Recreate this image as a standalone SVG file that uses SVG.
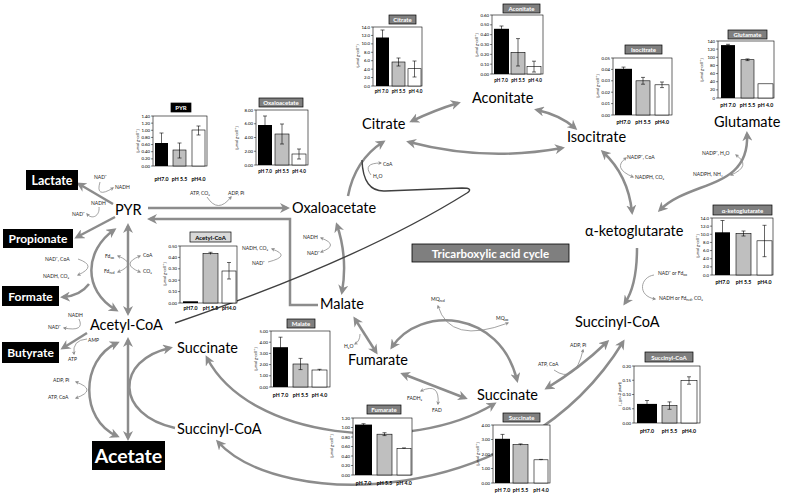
<svg xmlns="http://www.w3.org/2000/svg" width="785" height="497" viewBox="0 0 785 497">
<style>
text{font-family:Lato,"Liberation Sans",sans-serif}
.m{font-size:14.5px;fill:#000}
.bx{fill:#000}
.bt{fill:#fff;font-weight:bold;text-anchor:middle}
.t{font-size:5px;fill:#222}
.sb{font-size:3.6px}
.a{fill:none;stroke:#8c8c8c;stroke-width:2.5;marker-end:url(#ah)}
.a2{fill:none;stroke:#8c8c8c;stroke-width:2.5;marker-start:url(#ah);marker-end:url(#ah)}
.s{fill:none;stroke:#8c8c8c;stroke-width:.8;marker-end:url(#sh)}
.s2{fill:none;stroke:#8c8c8c;stroke-width:.8;marker-start:url(#sh);marker-end:url(#sh)}
.ttl{fill:#7f7f7f;stroke:#000;stroke-width:.7}
.tt{fill:#fff;font-weight:bold;font-size:6px;text-anchor:middle}
.fr{fill:#fff;stroke:#000;stroke-width:.6}
.tk{font-size:4.3px;text-anchor:end;fill:#000}
.tm{stroke:#000;stroke-width:.5;fill:none}
.b1{fill:#000}
.b2{fill:#bfbfbf;stroke:#000;stroke-width:.6}
.b3{fill:#fff;stroke:#000;stroke-width:.6}
.er{stroke:#000;stroke-width:.6;fill:none}
.xl{font-size:5.2px;font-weight:bold;text-anchor:middle;fill:#000}
.xs{font-size:4.6px}
.yl{font-size:3.8px;text-anchor:middle;fill:#000}
</style>
<defs>
<marker id="ah" viewBox="0 0 10 10" refX="7" refY="5" markerWidth="10" markerHeight="10" markerUnits="userSpaceOnUse" orient="auto-start-reverse"><path d="M0,0 L10,5 L0,10 L3,5 Z" fill="#8c8c8c"/></marker>
<marker id="sh" viewBox="0 0 10 10" refX="7" refY="5" markerWidth="4" markerHeight="4" markerUnits="userSpaceOnUse" orient="auto-start-reverse"><path d="M0,0 L10,5 L0,10 L3,5 Z" fill="#8c8c8c"/></marker>
</defs>
<rect width="785" height="497" fill="#fff"/>

<g id="connectors">
<path class="a" d="M113,204 L79,184"/>
<path class="s" d="M100,182 Q95,199 113,188"/>
<path class="a" d="M115,217 L77,237"/>
<path class="s" d="M99,207 C100,216 92,220 87,214"/>
<path class="a2" d="M128,226 L128,313"/>
<path class="s2" d="M118,256 Q138,264 118,272"/>
<path class="s2" d="M140,256 Q120,264 140,272"/>
<path class="a2" d="M114,230 C85,250 82,290 116,310"/>
<path class="a" d="M89,284 Q80,296 63,297"/>
<path class="s" d="M78,259 Q98,266 78,275"/>
<path class="a" d="M87,333 L63,348"/>
<path class="s" d="M79,319 Q85,332 64,328"/>
<path class="s" d="M87,339 Q72,340 74,354"/>
<path class="a2" d="M128,340 L128,438"/>
<path class="a2" d="M117,343 C80,360 80,420 117,436"/>
<path class="s2" d="M76,382 Q98,390 76,398"/>
<path class="a" d="M175,428 C115,415 115,360 170,348"/>
<path class="a" d="M148,208 L287,208"/>
<path class="a" d="M318,305 L290,305 L290,219 L150,219"/>
<path class="s" d="M207,197 Q218,214 231,197"/>
<path class="s" d="M268,262 Q292,256 272,249"/>
<path class="a2" d="M337,225 Q348,258 342,292"/>
<path class="s2" d="M321,252 Q340,245 321,238"/>
<path class="a" d="M348,196 Q355,160 383,142"/>
<path class="s" d="M371,175 Q362,163 381,163"/>
<path d="M175,323 Q360,260 467,193 Q474,188 462,188 L385,191 Q363,192 362,160" fill="none" stroke="#404040" stroke-width="1.4"/>
<path class="a2" d="M412,121 Q435,110 458,103"/>
<path class="a2" d="M537,110 Q560,115 575,128"/>
<path class="a2" d="M409,142 Q485,162 562,148"/>
<path class="a2" d="M603,152 Q628,175 632,212"/>
<path class="s2" d="M626,158 Q612,168 633,177"/>
<path class="a2" d="M660,210 C690,180 750,190 747,134"/>
<path class="s2" d="M736,155 Q752,166 731,175"/>
<path class="a" d="M637,248 Q637,285 625,303"/>
<path class="s" d="M654,275 C640,277 637,296 655,299"/>
<path class="a2" d="M547,388 Q580,368 607,342"/>
<path class="s" d="M554,370 Q575,385 583,350"/>
<path class="a2" d="M218,442 C280,510 520,510 623,342"/>
<path class="a2" d="M207,358 C250,440 410,455 494,404"/>
<path class="a2" d="M355,319 L376,352"/>
<path class="s" d="M360,334 Q360,341 355,344"/>
<path class="a2" d="M403,374 L465,398"/>
<path class="s2" d="M421,391 Q440,382 438,404"/>
<path class="a2" d="M392,347 C420,305 500,310 517,380"/>
<path class="s2" d="M438,306 Q450,345 508,323"/>
</g>

<g id="side-labels">
<text class="t" x="94" y="179">NAD⁺</text>
<text class="t" x="115" y="189">NADH</text>
<text class="t" x="91" y="205">NADH</text>
<text class="t" x="72" y="216">NAD⁺</text>
<text class="t" x="190" y="195">ATP, CO₂</text>
<text class="t" x="228" y="195">ADP, Pi</text>
<text class="t" x="105" y="258">Fd<tspan class="sb" dy="1">ox</tspan></text>
<text class="t" x="104" y="273">Fd<tspan class="sb" dy="1">red</tspan></text>
<text class="t" x="143" y="257">CoA</text>
<text class="t" x="143" y="273">CO₂</text>
<text class="t" x="45" y="261">NAD⁺, CoA</text>
<text class="t" x="43" y="278">NADH, CO₂</text>
<text class="t" x="242" y="250">NADH, CO₂</text>
<text class="t" x="252" y="265">NAD⁺</text>
<text class="t" x="303" y="239">NADH</text>
<text class="t" x="307" y="255">NAD⁺</text>
<text class="t" x="383" y="166">CoA</text>
<text class="t" x="373" y="178">H₂O</text>
<text class="t" x="431" y="301">MQ<tspan class="sb" dy="1">red</tspan></text>
<text class="t" x="496" y="320">MQ<tspan class="sb" dy="1">ox</tspan></text>
<text class="t" x="344" y="348">H₂O</text>
<text class="t" x="407" y="400">FADH₂</text>
<text class="t" x="432" y="412">FAD</text>
<text class="t" x="570" y="347">ADP, Pi</text>
<text class="t" x="538" y="366">ATP, CoA</text>
<text class="t" x="627" y="159">NADP⁺, CoA</text>
<text class="t" x="635" y="179">NADPH, CO₂</text>
<text class="t" x="702" y="155">NADP⁺, H₂O</text>
<text class="t" x="693" y="176">NADPH, NH₄</text>
<text class="t" x="658" y="275">NAD⁺ or Fd<tspan class="sb" dy="1">ox</tspan></text>
<text class="t" x="659" y="300">NADH or Fd<tspan class="sb" dy="1">red</tspan><tspan dy="-1">, CO₂</tspan></text>
<text class="t" x="68" y="317">NADH</text>
<text class="t" x="48" y="329">NAD⁺</text>
<text class="t" x="88" y="342">AMP</text>
<text class="t" x="68" y="361">ATP</text>
<text class="t" x="53" y="382">ADP, Pi</text>
<text class="t" x="48" y="399">ATP, CoA</text>
</g>

<g id="chart-pyr">
<rect x="171" y="103" width="20" height="9" fill="#000" stroke="#000" stroke-width=".7"/><text class="tt" x="181" y="110">PYR</text>
<rect class="fr" x="153" y="116" width="54" height="50"/>
<path class="tm" d="M151,116h2M151,123.14h2M151,130.29h2M151,137.43h2M151,144.57h2M151,151.71h2M151,158.86h2M151,166h2"/>
<text class="tk" x="150" y="117.5">1.40</text><text class="tk" x="150" y="124.6">1.20</text><text class="tk" x="150" y="131.8">1.00</text><text class="tk" x="150" y="138.9">0.80</text><text class="tk" x="150" y="146.1">0.60</text><text class="tk" x="150" y="153.2">0.40</text><text class="tk" x="150" y="160.4">0.20</text><text class="tk" x="150" y="167.5">0.00</text>
<rect class="b1" x="155" y="143" width="13" height="23"/><rect class="b2" x="173" y="150" width="13" height="16"/><rect class="b3" x="192" y="130" width="13" height="36"/>
<path class="er" d="M161.5,133V153M159.5,133h4M159.5,153h4M179.5,143V158M177.5,143h4M177.5,158h4M198.5,126V135M196.5,126h4M196.5,135h4"/>
<text class="yl" transform="translate(139,141) rotate(-90)">[μmol g-cell⁻¹]</text>
<text class="xl" x="161.5" y="181">pH7.0</text><text class="xl" x="179.5" y="181">pH 5.5</text><text class="xl" x="198.5" y="181">pH4.0</text>
</g>

<g id="chart-oxaloacetate">
<rect class="ttl" x="259" y="98" width="44" height="9"/><text class="tt" x="281" y="105">Oxaloacetate</text>
<rect class="fr" x="256" y="110" width="52" height="55"/>
<path class="tm" d="M254,110h2M254,123.75h2M254,137.5h2M254,151.25h2M254,165h2"/>
<text class="tk" x="253" y="111.5">8.00</text><text class="tk" x="253" y="125.3">6.00</text><text class="tk" x="253" y="139">4.00</text><text class="tk" x="253" y="152.8">2.00</text><text class="tk" x="253" y="166.5">0.00</text>
<rect class="b1" x="258" y="125" width="14" height="40"/><rect class="b2" x="275" y="134" width="14" height="31"/><rect class="b3" x="292" y="154" width="14" height="11"/>
<path class="er" d="M265,116V134M263,116h4M263,134h4M282,124V144M280,124h4M280,144h4M299,149V159M297,149h4M297,159h4"/>
<text class="yl" transform="translate(238,138) rotate(-90)">[μmol g-cell⁻¹]</text>
<text class="xl xs" x="265" y="173">pH 7.0</text><text class="xl xs" x="282" y="173">pH 5.5</text><text class="xl xs" x="299" y="173">pH 4.0</text>
</g>

<g id="chart-citrate">
<rect class="ttl" x="389" y="15" width="27" height="9"/><text class="tt" x="402.5" y="22">Citrate</text>
<rect class="fr" x="373" y="27" width="49" height="59"/>
<path class="tm" d="M371,27h2M371,35.43h2M371,43.86h2M371,52.29h2M371,60.71h2M371,69.14h2M371,77.57h2M371,86h2"/>
<text class="tk" x="370" y="28.5">14.0</text><text class="tk" x="370" y="36.9">12.0</text><text class="tk" x="370" y="45.4">10.0</text><text class="tk" x="370" y="53.8">8.0</text><text class="tk" x="370" y="62.2">6.0</text><text class="tk" x="370" y="70.6">4.0</text><text class="tk" x="370" y="79.1">2.0</text><text class="tk" x="370" y="87.5">0.0</text>
<rect class="b1" x="376" y="37.5" width="13" height="48.5"/><rect class="b2" x="392" y="62" width="13" height="24"/><rect class="b3" x="408" y="68.7" width="13" height="17.3"/>
<path class="er" d="M382.5,30V45M380.5,30h4M380.5,45h4M398.5,58V66M396.5,58h4M396.5,66h4M414.5,61V77M412.5,61h4M412.5,77h4"/>
<text class="yl" transform="translate(359,56) rotate(-90)">(μmol g-cell⁻¹)</text>
<text class="xl xs" x="381.5" y="93">pH 7.0</text><text class="xl xs" x="398.5" y="93">pH 5.5</text><text class="xl xs" x="415.5" y="93">pH 4.0</text>
</g>

<g id="chart-aconitate">
<rect class="ttl" x="503" y="4" width="37" height="9"/><text class="tt" x="521.5" y="11">Aconitate</text>
<rect class="fr" x="492" y="15" width="51" height="59"/>
<path class="tm" d="M490,15h2M490,24.83h2M490,34.67h2M490,44.5h2M490,54.33h2M490,64.17h2M490,74h2"/>
<text class="tk" x="489" y="16.5">0.60</text><text class="tk" x="489" y="26.3">0.50</text><text class="tk" x="489" y="36.2">0.40</text><text class="tk" x="489" y="46">0.30</text><text class="tk" x="489" y="55.8">0.20</text><text class="tk" x="489" y="65.7">0.10</text><text class="tk" x="489" y="75.5">0.00</text>
<rect class="b1" x="494" y="28.8" width="15" height="45.2"/><rect class="b2" x="511" y="52.4" width="14" height="21.6"/><rect class="b3" x="527" y="66.6" width="14" height="7.4"/>
<path class="er" d="M501.5,26V31.7M499.5,26h4M499.5,31.7h4M518,38.6V66M516,38.6h4M516,66h4M534,61.2V72M532,61.2h4M532,72h4"/>
<text class="yl" transform="translate(478,45) rotate(-90)">[μmol g-cell⁻¹]</text>
<text class="xl xs" x="501" y="82">pH 7.0</text><text class="xl xs" x="518" y="82">pH 5.5</text><text class="xl xs" x="535" y="82">pH 4.0</text>
</g>

<g id="chart-isocitrate">
<rect class="ttl" x="625" y="45" width="37" height="9"/><text class="tt" x="643.5" y="52">Isocitrate</text>
<rect class="fr" x="613" y="58" width="59" height="57"/>
<path class="tm" d="M611,58h2M611,69.4h2M611,80.8h2M611,92.2h2M611,103.6h2M611,115h2"/>
<text class="tk" x="610" y="59.5">0.05</text><text class="tk" x="610" y="70.9">0.04</text><text class="tk" x="610" y="82.3">0.03</text><text class="tk" x="610" y="93.7">0.02</text><text class="tk" x="610" y="105.1">0.01</text><text class="tk" x="610" y="116.5">0.00</text>
<rect class="b1" x="615" y="68.8" width="17" height="46.2"/><rect class="b2" x="636" y="80.8" width="14" height="34.2"/><rect class="b3" x="655" y="84.8" width="14" height="30.2"/>
<path class="er" d="M623.5,67.1V70.5M621.5,67.1h4M621.5,70.5h4M643,77.4V84.2M641,77.4h4M641,84.2h4M662,82V87.6M660,82h4M660,87.6h4"/>
<text class="yl" transform="translate(599,86) rotate(-90)">[μmol g-cell⁻¹]</text>
<text class="xl" x="623.5" y="124">pH7.0</text><text class="xl" x="643" y="124">pH 5.5</text><text class="xl" x="662" y="124">pH4.0</text>
</g>

<g id="chart-glutamate">
<rect class="ttl" x="728" y="30" width="39" height="9"/><text class="tt" x="747.5" y="37">Glutamate</text>
<rect class="fr" x="718" y="41" width="56" height="57"/>
<path class="tm" d="M716,41h2M716,49.14h2M716,57.29h2M716,65.43h2M716,73.57h2M716,81.71h2M716,89.86h2M716,98h2"/>
<text class="tk" x="715" y="42.5">140</text><text class="tk" x="715" y="50.6">120</text><text class="tk" x="715" y="58.8">100</text><text class="tk" x="715" y="66.9">80</text><text class="tk" x="715" y="75.1">60</text><text class="tk" x="715" y="83.2">40</text><text class="tk" x="715" y="91.4">20</text><text class="tk" x="715" y="99.5">0</text>
<rect class="b1" x="721" y="45.1" width="14" height="52.9"/><rect class="b2" x="741" y="59.7" width="13" height="38.3"/><rect class="b3" x="758" y="83.8" width="15" height="14.2"/>
<path class="er" d="M728,44.3V46.3M726,44.3h4M747.5,58.9V60.6M745.5,58.9h4M745.5,60.6h4"/>
<text class="yl" transform="translate(703,70) rotate(-90)">[μmol g-cell⁻¹]</text>
<text class="xl" x="728" y="107">pH 7.0</text><text class="xl" x="747.5" y="107">pH 5.5</text><text class="xl" x="765.5" y="107">pH 4.0</text>
</g>

<g id="chart-akg">
<rect class="ttl" x="713" y="205" width="59" height="10"/><text class="tt" x="742.5" y="212.5">α-ketoglutarate</text>
<rect class="fr" x="712" y="218" width="61" height="57"/>
<path class="tm" d="M710,218h2M710,226.14h2M710,234.29h2M710,242.43h2M710,250.57h2M710,258.71h2M710,266.86h2M710,275h2"/>
<text class="tk" x="709" y="219.5">14.0</text><text class="tk" x="709" y="227.6">12.0</text><text class="tk" x="709" y="235.8">10.0</text><text class="tk" x="709" y="243.9">8.0</text><text class="tk" x="709" y="252.1">6.0</text><text class="tk" x="709" y="260.2">4.0</text><text class="tk" x="709" y="268.4">2.0</text><text class="tk" x="709" y="276.5">0.0</text>
<rect class="b1" x="715" y="232.3" width="15" height="42.7"/><rect class="b2" x="736" y="233.5" width="15" height="41.5"/><rect class="b3" x="757" y="240.8" width="15" height="34.2"/>
<path class="er" d="M722.5,220.5V244M720.5,220.5h4M720.5,244h4M743.5,231V236M741.5,231h4M741.5,236h4M764.5,225.3V256.7M762.5,225.3h4M762.5,256.7h4"/>
<text class="yl" transform="translate(699,246) rotate(-90)">[μmol g-cell⁻¹]</text>
<text class="xl" x="722.5" y="284">pH7.0</text><text class="xl" x="743.5" y="284">pH 5.5</text><text class="xl" x="764.5" y="284">pH4.0</text>
</g>

<g id="chart-acetylcoa">
<rect class="ttl" x="190" y="232" width="41" height="10" style="fill:#d9d9d9"/><text class="tt" x="210.5" y="239.5" style="fill:#000">Acetyl-CoA</text>
<rect class="fr" x="180" y="246" width="57" height="57"/>
<path class="tm" d="M178,246h2M178,257.4h2M178,268.8h2M178,280.2h2M178,291.6h2M178,303h2"/>
<text class="tk" x="177" y="247.5">0.50</text><text class="tk" x="177" y="258.9">0.40</text><text class="tk" x="177" y="270.3">0.30</text><text class="tk" x="177" y="281.7">0.20</text><text class="tk" x="177" y="293.1">0.10</text><text class="tk" x="177" y="304.5">0.00</text>
<rect class="b1" x="183" y="301.3" width="15" height="1.7"/><rect class="b2" x="203" y="253.4" width="15" height="49.6"/><rect class="b3" x="222" y="271" width="14" height="32"/>
<path class="er" d="M210.5,252.3V254.5M208.5,252.3h4M229,262.5V279M227,262.5h4M227,279h4"/>
<text class="yl" transform="translate(166,274) rotate(-90)">[μmol g-cell⁻¹]</text>
<text class="xl" x="190.5" y="309.5">pH7.0</text><text class="xl" x="210.5" y="309.5">pH 5.5</text><text class="xl" x="229" y="309.5">pH4.0</text>
</g>

<g id="chart-malate">
<rect class="ttl" x="287" y="319" width="28" height="9"/><text class="tt" x="301" y="326">Malate</text>
<rect class="fr" x="271" y="331" width="59" height="56"/>
<path class="tm" d="M269,331h2M269,342.2h2M269,353.4h2M269,364.6h2M269,375.8h2M269,387h2"/>
<text class="tk" x="268" y="332.5">5.00</text><text class="tk" x="268" y="343.7">4.00</text><text class="tk" x="268" y="354.9">3.00</text><text class="tk" x="268" y="366.1">2.00</text><text class="tk" x="268" y="377.3">1.00</text><text class="tk" x="268" y="388.5">0.00</text>
<rect class="b1" x="273" y="347.2" width="15" height="39.8"/><rect class="b2" x="293" y="364" width="15" height="23"/><rect class="b3" x="312" y="370" width="15" height="17"/>
<path class="er" d="M280.5,337.2V357.3M278.5,337.2h4M278.5,357.3h4M300.5,358.4V369.6M298.5,358.4h4M298.5,369.6h4M319.5,369.3V370.7M317.5,369.3h4"/>
<text class="yl" transform="translate(257,359) rotate(-90)">[μmol g-cell⁻¹]</text>
<text class="xl" x="280.5" y="396.5">pH 7.0</text><text class="xl" x="300.5" y="396.5">pH 5.5</text><text class="xl" x="319.5" y="396.5">pH 4.0</text>
</g>

<g id="chart-fumarate">
<rect class="ttl" x="367" y="405" width="34" height="9"/><text class="tt" x="384" y="412">Fumarate</text>
<rect class="fr" x="353" y="418" width="59" height="57"/>
<path class="tm" d="M351,418h2M351,427.5h2M351,437h2M351,446.5h2M351,456h2M351,465.5h2M351,475h2"/>
<text class="tk" x="350" y="419.5">1.20</text><text class="tk" x="350" y="429">1.00</text><text class="tk" x="350" y="438.5">0.80</text><text class="tk" x="350" y="448">0.60</text><text class="tk" x="350" y="457.5">0.40</text><text class="tk" x="350" y="467">0.20</text><text class="tk" x="350" y="476.5">0.00</text>
<rect class="b1" x="355" y="424.6" width="17" height="50.4"/><rect class="b2" x="377" y="434.2" width="15" height="40.8"/><rect class="b3" x="397" y="448.4" width="14" height="26.6"/>
<path class="er" d="M363.5,423.7V425.6M361.5,423.7h4M384.5,432.7V435.6M382.5,432.7h4M382.5,435.6h4M404,447.9V448.9M402,447.9h4"/>
<text class="yl" transform="translate(333,446) rotate(-90)">[μmol g-cell⁻¹]</text>
<text class="xl" x="363.5" y="484.5">pH 7.0</text><text class="xl" x="384.5" y="484.5">pH 5.5</text><text class="xl" x="404" y="484.5">pH 4.0</text>
</g>

<g id="chart-succinate">
<rect class="ttl" x="503" y="413" width="37" height="9"/><text class="tt" x="521.5" y="420">Succinate</text>
<rect class="fr" x="493" y="425" width="57" height="58"/>
<path class="tm" d="M491,425h2M491,439.5h2M491,454h2M491,468.5h2M491,483h2"/>
<text class="tk" x="490" y="426.5">4.00</text><text class="tk" x="490" y="441">3.00</text><text class="tk" x="490" y="455.5">2.00</text><text class="tk" x="490" y="470">1.00</text><text class="tk" x="490" y="484.5">0.00</text>
<rect class="b1" x="495" y="438.8" width="15" height="44.2"/><rect class="b2" x="513" y="444.6" width="15" height="38.4"/><rect class="b3" x="534" y="459.8" width="14" height="23.2"/>
<path class="er" d="M502.5,434.4V443.1M500.5,434.4h4M500.5,443.1h4M520.5,443.9V445.3M518.5,443.9h4M541,459.4V460.2M539,459.4h4"/>
<text class="yl" transform="translate(479,454) rotate(-90)">[μmol g-cell⁻¹]</text>
<text class="xl" x="502.5" y="491.5">pH 7.0</text><text class="xl" x="520.5" y="491.5">pH 5.5</text><text class="xl" x="541" y="491.5">pH 4.0</text>
</g>

<g id="chart-succinylcoa">
<rect class="ttl" x="645" y="352" width="48" height="10"/><text class="tt" x="669" y="359.5">Succinyl-CoA</text>
<rect class="fr" x="634" y="366" width="66" height="57"/>
<path class="tm" d="M632,366h2M632,380.25h2M632,394.5h2M632,408.75h2M632,423h2"/>
<text class="tk" x="631" y="367.5">0.20</text><text class="tk" x="631" y="381.7">0.15</text><text class="tk" x="631" y="396">0.10</text><text class="tk" x="631" y="410.2">0.05</text><text class="tk" x="631" y="424.5">0.00</text>
<rect class="b1" x="637" y="403.9" width="20" height="19.1"/><rect class="b2" x="662" y="405.6" width="15" height="17.4"/><rect class="b3" x="681" y="380.5" width="16" height="42.5"/>
<path class="er" d="M647,400.5V407.3M645,400.5h4M645,407.3h4M669.5,401.9V409.3M667.5,401.9h4M667.5,409.3h4M689,376.8V384.2M687,376.8h4M687,384.2h4"/>
<text class="yl" transform="translate(619,394) rotate(90)">[μmol g-cell⁻¹]</text>
<text class="xl" x="647" y="432.5">pH7.0</text><text class="xl" x="669.5" y="432.5">pH 5.5</text><text class="xl" x="689" y="432.5">pH4.0</text>
</g>

<g id="node-lactate"><rect class="bx" x="26" y="170" width="52" height="20"/><text class="bt" x="52" y="184.5" font-size="12.5">Lactate</text></g>
<g id="node-propionate"><rect class="bx" x="3" y="229" width="70" height="19"/><text class="bt" x="38" y="243" font-size="12">Propionate</text></g>
<g id="node-formate"><rect class="bx" x="2" y="286" width="57" height="20"/><text class="bt" x="30.5" y="300.5" font-size="12">Formate</text></g>
<g id="node-butyrate"><rect class="bx" x="2" y="342" width="57" height="21"/><text class="bt" x="30.5" y="357" font-size="12">Butyrate</text></g>
<g id="node-acetate"><rect class="bx" x="92" y="441" width="73" height="29"/><text class="bt" x="128.5" y="462.5" font-size="19.5">Acetate</text></g>
<g id="node-tca"><rect x="412" y="244" width="157" height="18" fill="#7f7f7f" stroke="#000" stroke-width=".8"/><text class="bt" x="490.5" y="257.5" font-size="11.5">Tricarboxylic acid cycle</text></g>

<g id="node-pyr"><text class="m" x="115" y="215" font-size="16">PYR</text></g>
<g id="node-acetylcoa"><text class="m" x="90" y="330">Acetyl-CoA</text></g>
<g id="node-succinate-l"><text class="m" x="177" y="353">Succinate</text></g>
<g id="node-succinylcoa-l"><text class="m" x="177" y="434">Succinyl-CoA</text></g>
<g id="node-oxaloacetate"><text class="m" x="292" y="213">Oxaloacetate</text></g>
<g id="node-citrate"><text class="m" x="362" y="129">Citrate</text></g>
<g id="node-aconitate"><text class="m" x="472" y="103" font-size="16.5">Aconitate</text></g>
<g id="node-isocitrate"><text class="m" x="567" y="142">Isocitrate</text></g>
<g id="node-glutamate"><text class="m" x="714" y="127">Glutamate</text></g>
<g id="node-akg"><text class="m" x="585" y="236">α-ketoglutarate</text></g>
<g id="node-succinylcoa-r"><text class="m" x="575" y="327">Succinyl-CoA</text></g>
<g id="node-malate"><text class="m" x="320" y="309">Malate</text></g>
<g id="node-fumarate"><text class="m" x="348" y="365">Fumarate</text></g>
<g id="node-succinate-r"><text class="m" x="477" y="400">Succinate</text></g>
</svg>
